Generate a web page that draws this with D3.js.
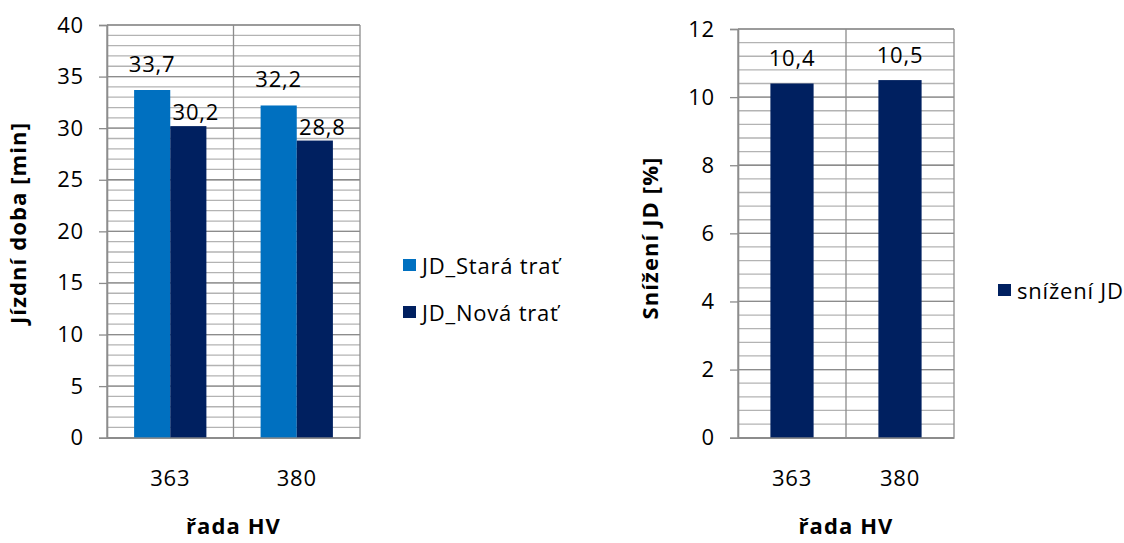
<!DOCTYPE html>
<html>
<head>
<meta charset="utf-8">
<script src="https://cdn.jsdelivr.net/npm/d3@7"></script>
<style>
  html, body { margin: 0; padding: 0; background: #fff; }
  svg { display: block; font-family: "Open Sans", "Noto Sans", sans-serif; }
  svg text { letter-spacing: 0.8px; }
  svg text.title { letter-spacing: 1.1px; }
</style>
</head>
<body>
<svg id="chart" width="1124" height="543"></svg>
<script>
// Travel time by locomotive class (minutes), old vs new line
const categories = ["363", "380"];
const seriesNames = ["JD_Stará trať", "JD_Nová trať"];
const jdStara = [33.7, 32.2];
const jdNova = [30.2, 28.8];
const jdLabels = [["33,7", "32,2"], ["30,2", "28,8"]];
const leftTicks = [0, 5, 10, 15, 20, 25, 30, 35, 40];

// Reduction of travel time (%)
const snizeni = [10.4, 10.5];
const snizeniLabels = ["10,4", "10,5"];
const rightTicks = [0, 2, 4, 6, 8, 10, 12];

const colors = ["#0070c0", "#002060"];
const FS = 22;
const svg = d3.select("#chart");

svg.append("rect").attr("width", 1124).attr("height", 543).attr("fill", "#fff");

function drawPanel(opts) {
  const g = svg.append("g");
  const x = d3.scaleBand().domain(categories).range([opts.left, opts.right]).padding(0);
  const y = d3.scaleLinear().domain([0, opts.max]).range([opts.bottom, opts.top]);

  // minor gridlines
  const minor = d3.range(0, opts.max + 1e-9, opts.minorStep);
  g.append("g").selectAll("line").data(minor).join("line")
    .attr("x1", opts.left).attr("x2", opts.right)
    .attr("y1", d => y(d)).attr("y2", d => y(d))
    .attr("stroke", "#b3b3b3").attr("stroke-width", 1.3);

  // major gridlines
  g.append("g").selectAll("line").data(opts.ticks).join("line")
    .attr("x1", opts.left).attr("x2", opts.right)
    .attr("y1", d => y(d)).attr("y2", d => y(d))
    .attr("stroke", "#8c8c8c").attr("stroke-width", 1.3);

  // vertical category boundaries
  const bounds = categories.map(c => x(c) + x.bandwidth()).concat([opts.left]);
  g.append("g").selectAll("line").data(bounds).join("line")
    .attr("x1", d => d).attr("x2", d => d)
    .attr("y1", opts.top).attr("y2", opts.bottom)
    .attr("stroke", "#8c8c8c").attr("stroke-width", 1.3);

  // bars with value labels
  const n = opts.series.length;
  const bw = x.bandwidth() / (n + 1.5);
  const offset = (x.bandwidth() - n * bw) / 2;
  opts.series.forEach((vals, si) => {
    g.append("g").selectAll("rect").data(vals).join("rect")
      .attr("x", (d, i) => x(categories[i]) + offset + si * bw)
      .attr("y", d => y(d))
      .attr("width", bw)
      .attr("height", d => y(0) - y(d))
      .attr("fill", opts.colors[si]);
    g.append("g").selectAll("text").data(vals).join("text")
      .attr("x", (d, i) => x(categories[i]) + offset + si * bw + bw / 2 + opts.labelDx[si])
      .attr("y", d => y(d) - opts.labelDy[si])
      .attr("text-anchor", "middle")
      .attr("dominant-baseline", "central")
      .attr("font-size", FS)
      .attr("fill", "#000")
      .text((d, i) => opts.labels[si][i]);
  });

  // y axis
  const ya = g.append("g").attr("transform", `translate(${opts.left},0)`)
    .call(d3.axisLeft(y).tickValues(opts.ticks).tickSize(8).tickPadding(15).tickFormat(d3.format("d")));
  ya.select(".domain").attr("stroke", "#8c8c8c").attr("stroke-width", 1.6);
  ya.selectAll(".tick line").attr("stroke", "#8c8c8c").attr("stroke-width", 1.3);
  ya.selectAll(".tick text").attr("font-size", FS).attr("fill", "#000")
    .attr("font-family", "'Open Sans', sans-serif");

  // x axis
  const xa = g.append("g").attr("transform", `translate(0,${opts.bottom})`)
    .call(d3.axisBottom(x).tickSize(0).tickPadding(33));
  xa.select(".domain").attr("stroke", "#8c8c8c").attr("stroke-width", 1.6);
  xa.selectAll(".tick text").attr("font-size", FS).attr("fill", "#000")
    .attr("font-family", "'Open Sans', sans-serif");

  // axis titles
  svg.append("text").attr("class", "title")
    .attr("x", (opts.left + opts.right) / 2).attr("y", 534)
    .attr("text-anchor", "middle").attr("font-weight", "bold").attr("font-size", FS)
    .text("řada HV");
  svg.append("text").attr("class", "title")
    .attr("transform", `translate(${opts.titleX},${opts.titleY}) rotate(-90)`)
    .attr("text-anchor", "middle").attr("font-weight", "bold").attr("font-size", FS)
    .text(opts.yTitle);

  // legend
  opts.legend.forEach((L, i) => {
    svg.append("rect").attr("x", L.x).attr("y", L.y - 6).attr("width", 13).attr("height", 12)
      .attr("fill", opts.colors[i]);
    svg.append("text").attr("x", L.x + 19).attr("y", L.y)
      .attr("dominant-baseline", "central").attr("font-size", FS)
      .text(L.name);
  });
}

drawPanel({
  left: 107, right: 360, top: 25, bottom: 437.7, max: 40, minorStep: 1,
  ticks: leftTicks, series: [jdStara, jdNova], colors: colors,
  labels: jdLabels, labelDx: [0, 7.5], labelDy: [27, 15],
  yTitle: "Jízdní doba [min]", titleX: 26, titleY: 223,
  legend: [{ x: 403, y: 265, name: seriesNames[0] }, { x: 403, y: 312, name: seriesNames[1] }]
});

drawPanel({
  left: 738, right: 954, top: 29, bottom: 437.7, max: 12, minorStep: 0.4,
  ticks: rightTicks, series: [snizeni], colors: [colors[1]],
  labels: [snizeniLabels], labelDx: [0], labelDy: [26],
  yTitle: "Snížení JD [%]", titleX: 658, titleY: 238,
  legend: [{ x: 998, y: 290, name: "snížení JD" }]
});
</script>
</body>
</html>
